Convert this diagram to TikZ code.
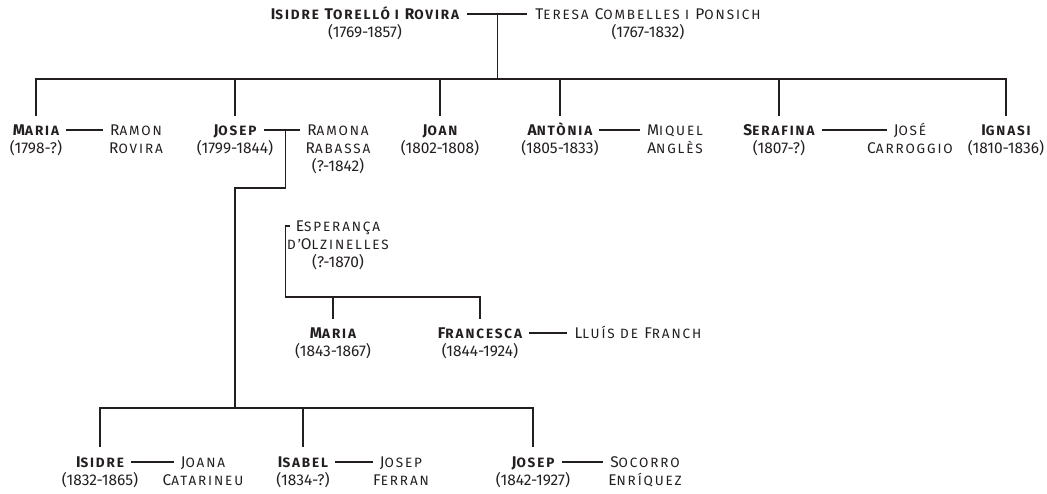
\documentclass[tikz,border=0pt]{standalone}
\usepackage{fontspec}
\setmainfont{Fira Sans}
\newfontfamily\nmfont[LetterSpace=14]{Fira Sans}
\usetikzlibrary{calc}
\definecolor{ink}{HTML}{231F20}
\newcommand\smc[1]{{\fontsize{13.5}{18}\selectfont\MakeUppercase{#1}}}
\tikzset{
  nm/.style={anchor=base, inner sep=0pt, text=ink, font=\nmfont\bfseries\fontsize{15.5}{18}\selectfont, text height=10.7pt, text depth=0pt},
  sp/.style={anchor=base, inner sep=0pt, text=ink, font=\nmfont\fontsize{15.5}{18}\selectfont, text height=10.7pt, text depth=0pt},
  dt/.style={anchor=base, inner sep=0pt, text=ink, font=\fontsize{15.5}{18}\selectfont},
  ln/.style={line width=1.4pt, draw=ink},
}
\begin{document}
\begin{tikzpicture}[x=1pt,y=-1pt]
\fill[white] (0,0) rectangle (1047,493);
\useasboundingbox (0,0) rectangle (1047,493);
\coordinate (bus1) at (0,79);
\coordinate (kink) at (0,188);
\coordinate (ebus) at (0,297);
\coordinate (bus2) at (0,408);
% top
\node[nm] (isidre0) at (365,19) {I\smc{sidre} T\smc{orelló i} R\smc{ovira}};
\node[dt] (isidre0d) at (365,37) {(1769-1857)};
\node[sp] (teresa) at (648,19) {T\smc{eresa} C\smc{ombelles i} P\smc{onsich}};
\node[dt] (teresad) at (648,37) {(1767-1832)};
% row 2
\node[nm] (maria1) at (36,135) {M\smc{aria}};
\node[dt] (maria1d) at (36,153) {(1798-?)};
\node[sp] (ramon) at (136,135) {R\smc{amon}};
\node[sp] (ramond) at (136,153) {R\smc{ovira}};
\node[nm] (josep1) at (235,135) {J\smc{osep}};
\node[dt] (josep1d) at (235,153) {(1799-1844)};
\node[sp] (ramona) at (338,135) {R\smc{amona}};
\node[sp] (ramonad) at (338,153) {R\smc{abassa}};
\node[dt] (ramonadd) at (338,171) {(?-1842)};
\node[nm] (joan) at (440,135) {J\smc{oan}};
\node[dt] (joand) at (440,153) {(1802-1808)};
\node[nm] (antonia) at (560,135) {A\smc{ntònia}};
\node[dt] (antoniad) at (560,153) {(1805-1833)};
\node[sp] (miquel) at (675,135) {M\smc{iquel}};
\node[sp] (miqueld) at (675,153) {A\smc{nglès}};
\node[nm] (serafina) at (779,135) {S\smc{erafina}};
\node[dt] (serafinad) at (779,153) {(1807-?)};
\node[sp] (jose) at (910,135) {J\smc{osé}};
\node[sp] (josed) at (910,153) {C\smc{arroggio}};
\node[nm] (ignasi) at (1006,135) {I\smc{gnasi}};
\node[dt] (ignasid) at (1006,153) {(1810-1836)};
% second marriage
\node[sp] (esperanca) at (338,231) {E\smc{sperança}};
\node[sp] (esperancad) at (338,249) {\smc{d’}O\smc{lzinelles}};
\node[dt] (esperancadd) at (338,267) {(?-1870)};
\node[nm] (maria2) at (333,338) {M\smc{aria}};
\node[dt] (maria2d) at (333,356) {(1843-1867)};
\node[nm] (francesca) at (480,338) {F\smc{rancesca}};
\node[dt] (francescad) at (480,356) {(1844-1924)};
\node[sp] (lluis) at (638,338) {L\smc{luís de} F\smc{ranch}};
% bottom
\node[nm] (isidre1) at (100,467) {I\smc{sidre}};
\node[dt] (isidre1d) at (100,485) {(1832-1865)};
\node[sp] (joana) at (203,467) {J\smc{oana}};
\node[sp] (joanad) at (203,485) {C\smc{atarineu}};
\node[nm] (isabel) at (303,467) {I\smc{sabel}};
\node[dt] (isabeld) at (303,485) {(1834-?)};
\node[sp] (josepf) at (401,467) {J\smc{osep}};
\node[sp] (josepfd) at (401,485) {F\smc{erran}};
\node[nm] (josep3) at (533,467) {J\smc{osep}};
\node[dt] (josep3d) at (533,485) {(1842-1927)};
\node[sp] (socorro) at (645,467) {S\smc{ocorro}};
\node[sp] (socorrod) at (645,485) {E\smc{nríquez}};
% marriage lines
\draw[ln] ([xshift=8pt,yshift=5pt]isidre0.base east) coordinate (c0a) -- ([xshift=-8pt,yshift=5pt]teresa.base west) coordinate (c0b);
\coordinate (m0) at ($(c0a)!0.5!(c0b)$);
\draw[ln] ([xshift=7pt,yshift=5pt]maria1.base east) -- ([xshift=-7pt,yshift=5pt]ramon.base west);
\draw[ln] ([xshift=7pt,yshift=5pt]josep1.base east) coordinate (c1a) -- ([xshift=-7pt,yshift=5pt]ramona.base west) coordinate (c1b);
\coordinate (m1) at ($(c1a)!0.6!(c1b)$);
\draw[ln] ([xshift=7pt,yshift=5pt]antonia.base east) -- ([xshift=-7pt,yshift=5pt]miquel.base west);
\draw[ln] ([xshift=7pt,yshift=5pt]serafina.base east) -- ([xshift=-7pt,yshift=5pt]jose.base west);
\draw[ln] ([xshift=7pt,yshift=5pt]francesca.base east) -- ([xshift=-7pt,yshift=5pt]lluis.base west);
\draw[ln] ([xshift=7pt,yshift=5pt]isidre1.base east) -- ([xshift=-7pt,yshift=5pt]joana.base west);
\draw[ln] ([xshift=7pt,yshift=5pt]isabel.base east) -- ([xshift=-7pt,yshift=5pt]josepf.base west);
\draw[ln] ([xshift=7pt,yshift=5pt]josep3.base east) -- ([xshift=-7pt,yshift=5pt]socorro.base west);
% first generation
\draw[ln] (m0) -- (m0 |- bus1);
\draw[ln] ([yshift=8pt]maria1.north) -- (maria1 |- bus1) -- (ignasi |- bus1) -- ([yshift=8pt]ignasi.north);
\foreach \c in {josep1,joan,antonia,serafina}
  \draw[ln] (\c |- bus1) -- ([yshift=8pt]\c.north);
% Josep + Ramona
\draw[ln] (m1) -- (m1 |- kink) -- (josep1 |- kink) -- (josep1 |- bus2);
\draw[ln] ([yshift=9pt]isidre1.north) -- (isidre1 |- bus2) -- (josep3 |- bus2) -- ([yshift=9pt]josep3.north);
\draw[ln] (isabel |- bus2) -- ([yshift=9pt]isabel.north);
% Josep + Esperanca
\coordinate (ew) at ([xshift=-6pt,yshift=5pt]esperanca.base west);
\draw[ln] (ew) -- (m1 |- ew) -- (m1 |- ebus) -- (francesca |- ebus) -- ([yshift=8pt]francesca.north);
\draw[ln] (maria2 |- ebus) -- ([yshift=8pt]maria2.north);
\end{tikzpicture}
\end{document}
